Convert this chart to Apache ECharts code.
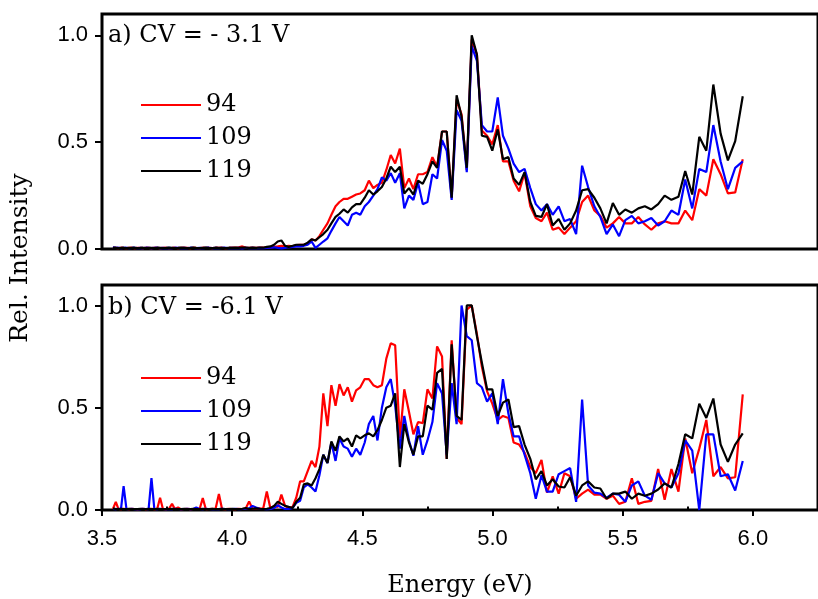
<!DOCTYPE html>
<html>
<head>
<meta charset="utf-8">
<script src="https://cdn.jsdelivr.net/npm/echarts@6/dist/echarts.min.js"></script>
<style>
html, body { margin: 0; padding: 0; background: #fff; }
#chart { width: 818px; height: 599px; }
</style>
</head>
<body>
<div id="chart"></div>
<script>
// photon energy (eV), one point per nm of wavelength
var energy = [
  3.542, 3.553, 3.563, 3.573, 3.583, 3.594, 3.604, 3.615, 3.625, 3.636,
  3.647, 3.657, 3.668, 3.679, 3.690, 3.701, 3.712, 3.723, 3.734, 3.746,
  3.757, 3.769, 3.780, 3.792, 3.803, 3.815, 3.827, 3.839, 3.850, 3.862,
  3.875, 3.887, 3.899, 3.911, 3.924, 3.936, 3.949, 3.961, 3.974, 3.987,
  3.999, 4.012, 4.025, 4.039, 4.052, 4.065, 4.078, 4.092, 4.105, 4.119,
  4.133, 4.147, 4.161, 4.175, 4.189, 4.203, 4.217, 4.232, 4.246, 4.261,
  4.275, 4.290, 4.305, 4.320, 4.335, 4.350, 4.366, 4.381, 4.397, 4.412,
  4.428, 4.444, 4.460, 4.476, 4.492, 4.509, 4.525, 4.542, 4.558, 4.575,
  4.592, 4.609, 4.626, 4.644, 4.661, 4.679, 4.696, 4.714, 4.732, 4.750,
  4.769, 4.787, 4.806, 4.824, 4.843, 4.862, 4.881, 4.901, 4.920, 4.940,
  4.959, 4.979, 4.999, 5.020, 5.040, 5.061, 5.081, 5.102, 5.123, 5.145,
  5.166, 5.188, 5.209, 5.231, 5.254, 5.276, 5.298, 5.321, 5.344, 5.367,
  5.391, 5.414, 5.438, 5.462, 5.486, 5.510, 5.535, 5.560, 5.585, 5.610,
  5.636, 5.661, 5.687, 5.714, 5.740, 5.767, 5.794, 5.821, 5.848, 5.876,
  5.904, 5.932, 5.961
];

// a) CV = -3.1 V
var a94 = [
  0.006,0.005,0.004,0.006,0.005,0.004,0.005,0.006,0.004,0.005,
  0.005,0.004,0.006,0.005,0.004,0.006,0.005,0.004,0.005,0.006,
  0.004,0.005,0.006,0.004,0.005,0.006,0.005,0.004,0.006,0.005,
  0.004,0.006,0.005,0.005,0.004,0.006,0.005,0.006,0.004,0.005,
  0.006,0.007,0.008,0.012,0.007,0.005,0.006,0.005,0.006,0.007,
  0.008,0.008,0.01,0.012,0.015,0.012,0.015,0.012,0.018,0.02,
  0.02,0.025,0.045,0.04,0.06,0.09,0.12,0.16,0.20,0.22,
  0.235,0.235,0.245,0.255,0.26,0.275,0.32,0.285,0.30,0.31,
  0.37,0.44,0.40,0.47,0.285,0.33,0.28,0.35,0.35,0.36,
  0.43,0.385,0.55,0.55,0.24,0.70,0.63,0.37,0.98,0.91,
  0.555,0.53,0.49,0.58,0.41,0.41,0.32,0.27,0.355,0.20,
  0.145,0.13,0.17,0.09,0.10,0.07,0.10,0.13,0.22,0.25,
  0.18,0.155,0.10,0.12,0.15,0.12,0.12,0.15,0.115,0.09,
  0.12,0.13,0.12,0.12,0.18,0.135,0.28,0.25,0.42,0.35,
  0.26,0.265,0.42
];
var a109 = [
  0.008,0.005,0.006,0.004,0.005,0.006,0.004,0.005,0.006,0.004,
  0.005,0.004,0.006,0.005,0.004,0.005,0.006,0.004,0.005,0.004,
  0.005,0.004,0.006,0.005,0.004,0.005,0.004,0.006,0.005,0.004,
  0.005,0.004,0.005,0.006,0.004,0.005,0.004,0.005,0.006,0.004,
  0.005,0.004,0.005,0.003,0.006,0.004,0.005,0.004,0.005,0.004,
  0.005,0.006,0.008,0.005,0.003,0.005,0.008,0.01,0.012,0.012,
  0.015,0.02,0.035,0.005,0.02,0.035,0.05,0.085,0.12,0.15,
  0.13,0.11,0.16,0.17,0.16,0.20,0.22,0.25,0.28,0.335,
  0.32,0.355,0.31,0.355,0.19,0.25,0.23,0.31,0.21,0.22,
  0.35,0.33,0.51,0.46,0.23,0.65,0.60,0.36,0.95,0.88,
  0.58,0.55,0.55,0.71,0.53,0.47,0.40,0.36,0.375,0.285,
  0.21,0.18,0.21,0.16,0.20,0.13,0.14,0.07,0.39,0.29,
  0.20,0.15,0.07,0.115,0.06,0.135,0.155,0.12,0.13,0.145,
  0.11,0.13,0.18,0.16,0.325,0.19,0.375,0.36,0.58,0.41,
  0.28,0.38,0.41
];
var a119 = [
  0.005,0.006,0.004,0.005,0.006,0.004,0.005,0.005,0.006,0.004,
  0.005,0.006,0.004,0.005,0.005,0.004,0.006,0.005,0.004,0.005,
  0.006,0.005,0.004,0.005,0.006,0.005,0.004,0.005,0.006,0.005,
  0.004,0.005,0.006,0.005,0.004,0.006,0.005,0.005,0.004,0.006,
  0.005,0.006,0.005,0.007,0.006,0.005,0.006,0.005,0.007,0.006,
  0.01,0.012,0.02,0.035,0.04,0.015,0.01,0.015,0.02,0.02,
  0.02,0.03,0.045,0.04,0.055,0.07,0.09,0.12,0.15,0.165,
  0.185,0.17,0.195,0.21,0.21,0.24,0.275,0.255,0.27,0.29,
  0.33,0.385,0.36,0.385,0.26,0.285,0.255,0.32,0.305,0.35,
  0.41,0.38,0.55,0.55,0.24,0.72,0.62,0.38,1.0,0.91,
  0.53,0.525,0.46,0.56,0.42,0.43,0.33,0.30,0.36,0.22,
  0.155,0.15,0.21,0.11,0.14,0.09,0.12,0.18,0.275,0.28,
  0.24,0.19,0.12,0.215,0.16,0.185,0.17,0.19,0.20,0.185,
  0.21,0.25,0.23,0.245,0.365,0.255,0.525,0.46,0.77,0.54,
  0.415,0.505,0.715
];

// b) CV = -6.1 V
var b94 = [
  0.005,0.04,0.005,0.004,0.006,0.005,0.004,0.006,0.005,0.004,
  0.005,0.006,0.004,0.005,0.006,0.004,0.005,0.06,0.005,0.004,
  0.006,0.03,0.005,0.012,0.004,0.005,0.006,0.004,0.005,0.006,
  0.005,0.058,0.004,0.005,0.006,0.005,0.078,0.005,0.004,0.006,
  0.005,0.004,0.006,0.005,0.008,0.042,0.006,0.005,0.008,0.006,
  0.09,0.006,0.02,0.015,0.075,0.02,0.01,0.015,0.06,0.14,
  0.14,0.19,0.24,0.21,0.31,0.57,0.41,0.61,0.51,0.615,
  0.56,0.60,0.53,0.585,0.60,0.64,0.64,0.61,0.60,0.61,
  0.74,0.815,0.805,0.35,0.59,0.48,0.37,0.43,0.425,0.59,
  0.545,0.80,0.75,0.25,0.83,0.45,0.42,0.98,1.0,0.86,
  0.70,0.58,0.52,0.44,0.46,0.45,0.33,0.32,0.28,0.21,
  0.18,0.245,0.085,0.165,0.08,0.18,0.165,0.055,0.08,0.10,
  0.075,0.075,0.055,0.07,0.03,0.04,0.155,0.03,0.04,0.045,
  0.20,0.05,0.20,0.09,0.35,0.18,0.30,0.44,0.165,0.21,
  0.155,0.16,0.565
];
var b109 = [
  0.005,0.004,0.006,0.005,0.117,0.004,0.005,0.006,0.004,0.005,
  0.004,0.006,0.005,0.004,0.156,0.005,0.004,0.006,0.005,0.004,
  0.005,0.004,0.006,0.005,0.004,0.005,0.006,0.004,0.005,0.012,
  0.005,0.004,0.006,0.005,0.004,0.005,0.004,0.006,0.005,0.004,
  0.005,0.006,0.004,0.005,0.006,0.008,0.02,0.012,0.006,0.005,
  0.004,0.005,0.01,0.023,0.012,0.005,0.005,0.01,0.035,0.045,
  0.11,0.125,0.11,0.09,0.17,0.27,0.23,0.33,0.24,0.35,
  0.31,0.30,0.26,0.30,0.27,0.33,0.42,0.46,0.34,0.50,
  0.60,0.64,0.51,0.30,0.46,0.34,0.265,0.41,0.27,0.34,
  0.43,0.62,0.57,0.27,0.62,0.42,1.0,0.85,0.83,0.62,
  0.60,0.53,0.57,0.42,0.64,0.47,0.36,0.36,0.27,0.18,
  0.055,0.17,0.09,0.09,0.175,0.19,0.205,0.04,0.54,0.12,
  0.085,0.08,0.06,0.08,0.075,0.04,0.12,0.14,0.07,0.05,
  0.18,0.13,0.11,0.18,0.34,0.29,0.0,0.37,0.37,0.165,
  0.175,0.095,0.24
];
var b119 = [
  0.008,0.005,0.004,0.006,0.005,0.004,0.006,0.005,0.004,0.005,
  0.006,0.004,0.005,0.006,0.004,0.005,0.006,0.004,0.005,0.005,
  0.004,0.006,0.005,0.004,0.005,0.006,0.004,0.005,0.006,0.004,
  0.005,0.006,0.004,0.005,0.006,0.004,0.005,0.006,0.005,0.004,
  0.006,0.005,0.004,0.006,0.01,0.005,0.006,0.008,0.006,0.005,
  0.006,0.01,0.02,0.04,0.03,0.02,0.015,0.01,0.04,0.06,
  0.125,0.13,0.12,0.155,0.20,0.27,0.23,0.335,0.29,0.36,
  0.335,0.35,0.31,0.365,0.35,0.365,0.375,0.36,0.39,0.44,
  0.50,0.51,0.57,0.21,0.42,0.33,0.27,0.36,0.36,0.51,
  0.49,0.67,0.69,0.25,0.81,0.46,0.44,1.0,1.0,0.85,
  0.72,0.59,0.59,0.46,0.525,0.54,0.405,0.41,0.32,0.25,
  0.15,0.19,0.12,0.15,0.115,0.11,0.16,0.07,0.12,0.14,
  0.11,0.105,0.055,0.08,0.08,0.09,0.055,0.08,0.07,0.08,
  0.10,0.13,0.11,0.225,0.37,0.35,0.52,0.45,0.545,0.32,
  0.235,0.32,0.375
];

var seriesNames = ['94', '109', '119'];
var seriesColors = ['#ff0000', '#0000ff', '#000000'];
var xTicks = [3.5, 4.0, 4.5, 5.0, 5.5, 6.0];
var xMinorTicks = [3.75, 4.25, 4.75, 5.25, 5.75];
var yTicks = [0, 0.5, 1.0];
var yMinorTicks = [0.25, 0.75];

function pairs(ys) {
    var out = [];
    for (var i = 0; i < energy.length; i++) {
        out.push([energy[i], ys[i]]);
    }
    return out;
}

var tickFont = 'Liberation Sans';
var serifFont = 'DejaVu Serif';

function xAxisBase(grid) {
    return {
        type: 'value', gridIndex: grid, min: 3.5, max: 6.25,
        axisLine: { show: false },
        splitLine: { show: false },
        axisTick: { show: false },
        axisLabel: { show: false }
    };
}
function yAxisBase(grid) {
    return {
        type: 'value', gridIndex: grid, min: 0, max: 1.1,
        axisLine: { show: false },
        splitLine: { show: false },
        axisTick: { show: false },
        axisLabel: { show: false }
    };
}

var xTop = xAxisBase(0);
var xBottom = xAxisBase(1);
xBottom.axisTick = { show: true, length: 6, customValues: xTicks, lineStyle: { color: '#000', width: 2 } };
xBottom.axisLabel = {
    show: true, customValues: xTicks, margin: 18, color: '#000',
    fontFamily: tickFont, fontSize: 22,
    formatter: function (v) { return v.toFixed(1); }
};
xBottom.name = 'Energy (eV)';
xBottom.nameLocation = 'middle';
xBottom.nameGap = 64;
xBottom.nameTextStyle = { fontFamily: serifFont, fontSize: 24, color: '#000' };
var xBottomMinor = xAxisBase(1);
xBottomMinor.axisTick = { show: true, length: 3.5, customValues: xMinorTicks, lineStyle: { color: '#000', width: 2 } };

var yAxes = [];
[0, 1].forEach(function (g) {
    var major = yAxisBase(g);
    major.axisTick = { show: true, length: 7, customValues: yTicks, lineStyle: { color: '#000', width: 2 } };
    major.axisLabel = {
        show: true, customValues: yTicks, margin: 14, color: '#000',
        fontFamily: tickFont, fontSize: 22,
        formatter: function (v) { return v.toFixed(1); }
    };
    var minor = yAxisBase(g);
    minor.axisTick = { show: true, length: 4, customValues: yMinorTicks, lineStyle: { color: '#000', width: 2 } };
    yAxes.push(major, minor);
});

var series = [];
[[a94, a109, a119], [b94, b109, b119]].forEach(function (panel, p) {
    panel.forEach(function (ys, k) {
        series.push({
            name: seriesNames[k],
            type: 'line',
            xAxisIndex: p,
            yAxisIndex: p * 2,
            data: pairs(ys),
            showSymbol: false,
            symbol: 'none',
            color: seriesColors[k],
            lineStyle: { width: 2.2, color: seriesColors[k] },
            z: 2 + k
        });
    });
});

function legendAt(top) {
    return {
        data: seriesNames, orient: 'vertical', left: 136, top: top,
        icon: 'rect', itemWidth: 60, itemHeight: 2, itemGap: 9,
        selectedMode: false,
        textStyle: { fontFamily: serifFont, fontSize: 24, color: '#000' }
    };
}

var chart = echarts.init(document.getElementById('chart'));
var option = {
    animation: false,
    backgroundColor: '#fff',
    title: [
        { text: 'a) CV = - 3.1 V', left: 108, top: 24, padding: 0,
          textStyle: { fontFamily: serifFont, fontSize: 24, fontWeight: 'normal', color: '#000' } },
        { text: 'b) CV = -6.1 V', left: 108, top: 296, padding: 0,
          textStyle: { fontFamily: serifFont, fontSize: 24, fontWeight: 'normal', color: '#000' } }
    ],
    legend: [legendAt(88), legendAt(361)],
    grid: [
        { left: 102, right: -10, top: 14, height: 235, show: true, borderColor: '#000', borderWidth: 3 },
        { left: 102, right: -10, top: 285, height: 235, show: true, borderColor: '#000', borderWidth: 3 }
    ],
    xAxis: [xTop, xBottom, xBottomMinor],
    yAxis: yAxes,
    graphic: [{
        type: 'text', x: 20, y: 258, rotation: Math.PI / 2,
        style: {
            text: 'Rel. Intensity', fill: '#000',
            font: '25px "DejaVu Serif"',
            textAlign: 'center', textVerticalAlign: 'middle'
        }
    }],
    series: series
};
chart.setOption(option);
</script>
</body>
</html>
